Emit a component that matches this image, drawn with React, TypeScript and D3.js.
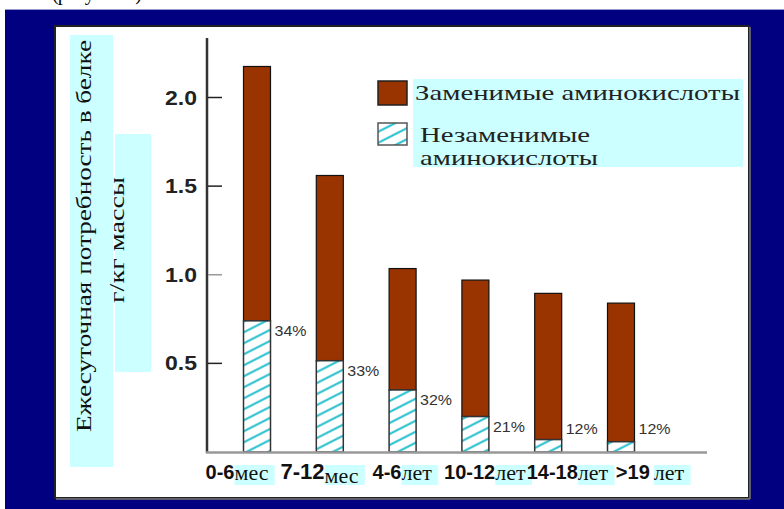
import React, { useLayoutEffect, useRef, useState } from "react";
import * as d3 from "d3";

const categories = ["0-6", "7-12", "4-6", "10-12", "14-18", ">19"];
const units = ["мес", "мес", "лет", "лет", "лет", "лет"];
const totalValues = [2.175, 1.56, 1.035, 0.97, 0.895, 0.84];
const essentialValues = [0.74, 0.515, 0.35, 0.2, 0.07, 0.058];
const percentLabels = ["34%", "33%", "32%", "21%", "12%", "12%"];
const yTicks = [0.5, 1.0, 1.5, 2.0];
const yTitleLines = ["Ежесуточная потребность в белке", "г/кг массы"];
const legendLabels = ["Заменимые аминокислоты", "Незаменимые", "аминокислоты"];
const captionFragment = "(рисунок 1)";

const W = 784;
const H = 509;
const NAVY = "#000080";
const BROWN = "#993300";
const CYAN_BG = "#ccffff";
const HATCH = "#1cbccb";
const SERIF = "'Liberation Serif', 'Times New Roman', serif";
const SANS = "'Liberation Sans', Arial, sans-serif";

export default function App() {
  const y = d3.scaleLinear().domain([0, 2]).range([452, 97.5]);
  const x = d3.scalePoint<string>().domain(categories).range([257, 621]);
  const xLabel = d3.scalePoint<string>().domain(categories).range([237, 650]);
  const barW = 27;

  const unitRefs = useRef<(SVGTSpanElement | null)[]>([]);
  const [unitBoxes, setUnitBoxes] = useState<{ x: number; w: number }[]>([]);

  useLayoutEffect(() => {
    const boxes = unitRefs.current.map((el) => {
      if (!el) return { x: 0, w: 0 };
      const b = el.getBBox();
      return { x: b.x, w: b.width };
    });
    setUnitBoxes(boxes);
  }, []);

  return (
    <svg
      width={W}
      height={H}
      style={{ position: "absolute", left: 0, top: 0, background: "#fff" }}
    >
      <defs>
        <pattern
          id="hatch"
          patternUnits="userSpaceOnUse"
          width={8}
          height={11}
          patternTransform="skewY(-27)"
        >
          <rect width={8} height={11} fill="#fff" />
          <line x1={0} y1={5.5} x2={8} y2={5.5} stroke={HATCH} strokeWidth={2.2} />
        </pattern>
      </defs>

      {/* clipped caption above frame */}
      <text x={52} y={0} fontFamily={SERIF} fontSize={20} fill="#000" textLength={90}>
        {captionFragment}
      </text>

      {/* navy frame */}
      <rect x={5} y={9} width={W - 5} height={H - 9} fill={NAVY} />
      <line x1={5} x2={W} y1={9.5} y2={9.5} stroke="#9a9acc" strokeWidth={1} />

      {/* white panel */}
      <rect x={55} y={26} width={694} height={472} fill="#fff" stroke="#222" strokeWidth={2} />
      <line x1={750} x2={750} y1={27} y2={499} stroke="#777" strokeWidth={1.5} />
      <line x1={56} x2={750} y1={499} y2={499} stroke="#777" strokeWidth={1.5} />

      {/* y title backgrounds */}
      <rect x={70} y={35} width={43} height={432} fill={CYAN_BG} />
      <rect x={115} y={134} width={36} height={238} fill={CYAN_BG} />
      <text
        transform="translate(91,236) rotate(-90)"
        textAnchor="middle"
        fontFamily={SERIF}
        fontSize={22}
        fill="#111"
        textLength={392}
        lengthAdjust="spacingAndGlyphs"
      >
        {yTitleLines[0]}
      </text>
      <text
        transform="translate(124,240) rotate(-90)"
        textAnchor="middle"
        fontFamily={SERIF}
        fontSize={22}
        fill="#111"
        textLength={126}
        lengthAdjust="spacingAndGlyphs"
      >
        {yTitleLines[1]}
      </text>

      {/* y axis */}
      <line x1={207} x2={207} y1={38} y2={y(0) + 1} stroke="#333" strokeWidth={2.5} />
      {yTicks.map((t) => (
        <g key={t}>
          <line
            x1={208}
            x2={222}
            y1={y(t)}
            y2={y(t)}
            stroke={t === 1 ? "#999" : "#222"}
            strokeWidth={1.5}
          />
          <text
            x={197}
            y={y(t) + 7}
            textAnchor="end"
            fontFamily={SANS}
            fontWeight="bold"
            fontSize={20}
            fill="#222"
            textLength={32}
            lengthAdjust="spacingAndGlyphs"
          >
            {t.toFixed(1)}
          </text>
        </g>
      ))}

      {/* bars */}
      {categories.map((c, i) => {
        const cx = x(c)!;
        const yTop = y(totalValues[i]);
        const yMid = y(essentialValues[i]);
        const y0 = y(0);
        const labelY = Math.min(yMid + 15, y0 - 18);
        return (
          <g key={c}>
            <rect
              x={cx - barW / 2}
              y={yTop}
              width={barW}
              height={yMid - yTop}
              fill={BROWN}
              stroke="#111"
              strokeWidth={1.2}
            />
            <rect
              x={cx - barW / 2}
              y={yMid}
              width={barW}
              height={y0 - yMid}
              fill="url(#hatch)"
              stroke="#333"
              strokeWidth={1.5}
            />
            <text
              x={cx + barW / 2 + 4}
              y={labelY}
              fontFamily={SANS}
              fontSize={15}
              fill="#333"
              textLength={32}
              lengthAdjust="spacingAndGlyphs"
            >
              {percentLabels[i]}
            </text>
          </g>
        );
      })}

      {/* x axis */}
      <line x1={206} x2={707} y1={y(0) + 0.5} y2={y(0) + 0.5} stroke="#999" strokeWidth={2.5} />

      {/* x labels */}
      {unitBoxes.map((b, i) =>
        b.w > 0 ? (
          <rect key={"ub" + i} x={b.x} y={465} width={b.w + 6} height={20} fill={CYAN_BG} />
        ) : null
      )}
      {categories.map((c, i) => (
        <text key={"xl" + c} x={xLabel(c)} y={479} textAnchor="middle" fill="#111">
          <tspan fontFamily={SANS} fontWeight="bold" fontSize={c === "7-12" ? 22 : 20}>
            {c}
          </tspan>
          <tspan
            ref={(el) => {
              unitRefs.current[i] = el;
            }}
            fontFamily={SERIF}
            fontSize={22}
            dx={c === ">19" ? 4 : 0}
            dy={c === "7-12" ? 4 : 1}
          >
            {units[i]}
          </tspan>
        </text>
      ))}

      {/* legend */}
      <rect x={413} y={79} width={330} height={88} fill={CYAN_BG} />
      <rect x={378} y={81} width={29} height={24} fill={BROWN} stroke="#222" strokeWidth={1.5} />
      <rect x={378} y={123} width={29} height={22} fill="url(#hatch)" stroke="#555" strokeWidth={1.5} />
      <text
        x={415}
        y={100}
        fontFamily={SERIF}
        fontSize={22}
        fill="#222"
        textLength={325}
        lengthAdjust="spacingAndGlyphs"
      >
        {legendLabels[0]}
      </text>
      <text
        x={420}
        y={142}
        fontFamily={SERIF}
        fontSize={22}
        fill="#222"
        textLength={170}
        lengthAdjust="spacingAndGlyphs"
      >
        {legendLabels[1]}
      </text>
      <text
        x={420}
        y={165}
        fontFamily={SERIF}
        fontSize={22}
        fill="#222"
        textLength={178}
        lengthAdjust="spacingAndGlyphs"
      >
        {legendLabels[2]}
      </text>
    </svg>
  );
}
